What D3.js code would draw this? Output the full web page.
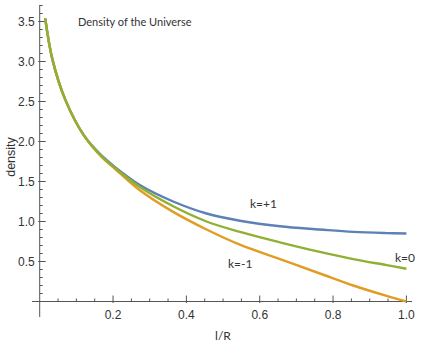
<!DOCTYPE html>
<html>
<head>
<meta charset="utf-8">
<script src="https://cdn.jsdelivr.net/npm/d3@7"></script>
<style>
  body { margin: 0; background: #fff; }
  svg text { fill: #333; }
</style>
</head>
<body>
<div id="chart"></div>
<script>
// values
let xs = [0.015, 0.035, 0.07, 0.12, 0.17, 0.2, 0.273, 0.364, 0.455, 0.546, 0.655, 0.764, 0.855, 0.946, 1.0]
let kZero = [3.54, 3.02, 2.52, 2.08, 1.81, 1.69, 1.43, 1.19, 1.00, 0.87, 0.74, 0.62, 0.53, 0.455, 0.41]
let kPlus = [3.54, 3.02, 2.52, 2.08, 1.82, 1.70, 1.456, 1.25, 1.10, 1.01, 0.94, 0.90, 0.87, 0.855, 0.85]
let kMinus = [3.54, 3.02, 2.52, 2.08, 1.80, 1.68, 1.39, 1.12, 0.90, 0.71, 0.53, 0.35, 0.20, 0.07, 0.0]

let xTicks = [0.2, 0.4, 0.6, 0.8, 1.0]
let yTicks = [0.5, 1.0, 1.5, 2.0, 2.5, 3.0, 3.5]

let colors = {
    plus: "#5e81b5",
    minus: "#e19c24",
    zero: "#8fb032"
}

const width = 422, height = 354;

let svg = d3.select('#chart')
    .append('svg')
    .attr('width', width)
    .attr('height', height)

let x = d3.scaleLinear().domain([0, 1]).range([39.7, 406.4])
let y = d3.scaleLinear().domain([0, 3.5]).range([301.5, 21.5])

// axes, mathematica style: ticks pointing into the plot
let axisColor = "#555"

let xMinor = d3.range(0.05, 1.001, 0.05).filter(v => Math.abs(v * 5 - Math.round(v * 5)) > 1e-6)
let yMinor = d3.range(0.1, 3.71, 0.1).filter(v => Math.abs(v * 2 - Math.round(v * 2)) > 1e-6)

let xAxis = svg.append('g').attr('transform', `translate(0,${y(0)})`)
xAxis.append('line')
    .attr('x1', 32).attr('x2', 412)
    .attr('stroke', axisColor)
xAxis.selectAll('.minor')
    .data(xMinor)
    .join('line')
    .attr('x1', d => x(d)).attr('x2', d => x(d))
    .attr('y1', 0).attr('y2', -3)
    .attr('stroke', axisColor)
xAxis.selectAll('.major')
    .data(xTicks)
    .join('line')
    .attr('x1', d => x(d)).attr('x2', d => x(d))
    .attr('y1', 1.5).attr('y2', -6)
    .attr('stroke', axisColor)
xAxis.selectAll('text')
    .data(xTicks)
    .join('text')
    .attr('x', d => x(d))
    .attr('y', 17)
    .attr('text-anchor', 'middle')
    .attr('font-family', 'Liberation Sans, Arial, sans-serif')
    .attr('font-size', '12px')
    .text(d => d.toFixed(1))

let yAxis = svg.append('g').attr('transform', `translate(${x(0)},0)`)
yAxis.append('line')
    .attr('y1', 5).attr('y2', 317)
    .attr('stroke', axisColor)
yAxis.selectAll('.minor')
    .data(yMinor)
    .join('line')
    .attr('y1', d => y(d)).attr('y2', d => y(d))
    .attr('x1', 0).attr('x2', 3)
    .attr('stroke', axisColor)
yAxis.selectAll('.major')
    .data(yTicks)
    .join('line')
    .attr('y1', d => y(d)).attr('y2', d => y(d))
    .attr('x1', -1.5).attr('x2', 6)
    .attr('stroke', axisColor)
yAxis.selectAll('text')
    .data(yTicks)
    .join('text')
    .attr('x', -5)
    .attr('y', d => y(d))
    .attr('dy', '0.36em')
    .attr('text-anchor', 'end')
    .attr('font-family', 'Liberation Sans, Arial, sans-serif')
    .attr('font-size', '12px')
    .text(d => d.toFixed(1))

// curves
let line = d3.line()
    .x((d, i) => x(xs[i]))
    .y(d => y(d))
    .curve(d3.curveCatmullRom.alpha(0.5))

let series = [
    { name: 'plus', values: kPlus },
    { name: 'minus', values: kMinus },
    { name: 'zero', values: kZero }
]

svg.append('g')
    .selectAll('path')
    .data(series)
    .join('path')
    .attr('d', d => line(d.values))
    .attr('fill', 'none')
    .attr('stroke', d => colors[d.name])
    .attr('stroke-width', 2.4)

// labels
let labelFont = 'Lato, "Open Sans", sans-serif'

svg.append('text')
    .attr('x', 78).attr('y', 26)
    .attr('font-family', labelFont)
    .attr('font-size', '11px')
    .text('Density of the Universe')

svg.append('text')
    .attr('x', 250).attr('y', 208)
    .attr('font-family', labelFont)
    .attr('font-size', '12px')
    .text('k=+1')

svg.append('text')
    .attr('x', 395).attr('y', 262)
    .attr('font-family', labelFont)
    .attr('font-size', '12px')
    .text('k=0')

svg.append('text')
    .attr('x', 228).attr('y', 268)
    .attr('font-family', labelFont)
    .attr('font-size', '12px')
    .text('k=-1')

svg.append('text')
    .attr('x', 223).attr('y', 340)
    .attr('text-anchor', 'middle')
    .attr('font-family', labelFont)
    .attr('font-size', '12px')
    .text('l/R')

svg.append('text')
    .attr('transform', 'translate(15,157) rotate(-90)')
    .attr('text-anchor', 'middle')
    .attr('font-family', 'Liberation Sans, Arial, sans-serif')
    .attr('font-size', '12.5px')
    .text('density')
</script>
</body>
</html>
